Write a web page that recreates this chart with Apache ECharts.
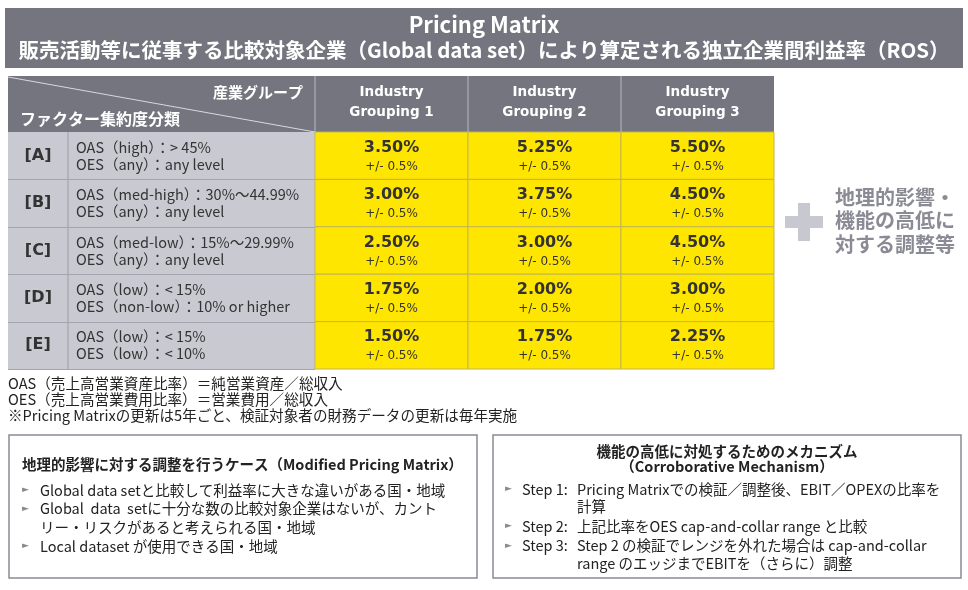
<!DOCTYPE html>
<html>
<head>
<meta charset="utf-8">
<script src="https://cdn.jsdelivr.net/npm/echarts@6/dist/echarts.min.js"></script>
<style>
  html, body { margin: 0; padding: 0; background: #fff; }
  #main { width: 968px; height: 590px; }
</style>
</head>
<body>
<div id="main"></div>
<script>
// 産業グループ（列）とファクター集約度分類（行）
const groups = ['Industry\nGrouping 1', 'Industry\nGrouping 2', 'Industry\nGrouping 3'];
const classes = ['[A]', '[B]', '[C]', '[D]', '[E]'];
const oasLabels = ['OAS（high）：> 45%', 'OAS（med-high）：30%～44.99%', 'OAS（med-low）：15%～29.99%', 'OAS（low）：< 15%', 'OAS（low）：< 15%'];
const oesLabels = ['OES（any）：any level', 'OES（any）：any level', 'OES（any）：any level', 'OES（non-low）：10% or higher', 'OES（low）：< 10%'];
// ROS（%）行 = A..E, 列 = Grouping 1..3
const rosA = [3.50, 5.25, 5.50];
const rosB = [3.00, 3.75, 4.50];
const rosC = [2.50, 3.00, 4.50];
const rosD = [1.75, 2.00, 3.00];
const rosE = [1.50, 1.75, 2.25];
const band = 0.5;

const notes = [
  'OAS（売上高営業資産比率）＝純営業資産／総収入',
  'OES（売上高営業費用比率）＝営業費用／総収入',
  '※Pricing Matrixの更新は5年ごと、検証対象者の財務データの更新は毎年実施'
];
const leftBoxTitle = '地理的影響に対する調整を行うケース（Modified Pricing Matrix）';
const leftBullets = [
  ['Global data setと比較して利益率に大きな違いがある国・地域'],
  ['Global  data  setに十分な数の比較対象企業はないが、カント', 'リー・リスクがあると考えられる国・地域'],
  ['Local dataset が使用できる国・地域']
];
const rightBoxTitle = ['機能の高低に対処するためのメカニズム', '（Corroborative Mechanism）'];
const rightSteps = [
  ['Step 1:', 'Pricing Matrixでの検証／調整後、EBIT／OPEXの比率を', '計算'],
  ['Step 2:', '上記比率をOES cap-and-collar range と比較'],
  ['Step 3:', 'Step 2 の検証でレンジを外れた場合は cap-and-collar', 'range のエッジまでEBITを（さらに）調整']
];

const rosRows = [rosA, rosB, rosC, rosD, rosE];
const cellData = [];
rosRows.forEach((row, r) => row.forEach((v, c) => cellData.push([c, r, v])));

const JP = '"Noto Sans CJK JP", "Noto Sans", sans-serif';
const NUM = '"DejaVu Sans", "Noto Sans CJK JP", sans-serif';
const GRAY = '#75757f';

const chart = echarts.init(document.getElementById('main'));

function renderCell(params, api) {
  const c = api.coord([api.value(0), api.value(1)]);
  const s = api.size([1, 1]);
  return {
    type: 'group',
    children: [
      { type: 'rect', shape: { x: c[0] - s[0] / 2, y: c[1] - s[1] / 2, width: s[0], height: s[1] },
        style: { fill: '#ffe600', stroke: '#c2b552', lineWidth: 1 } },
      { type: 'text', x: c[0], y: c[1] - 8,
        style: { text: api.value(2).toFixed(2) + '%', fill: '#333', font: 'bold 16px ' + NUM, align: 'center', verticalAlign: 'middle' } },
      { type: 'text', x: c[0], y: c[1] + 11,
        style: { text: '+/- ' + band + '%', fill: '#333', font: '12px ' + NUM, align: 'center', verticalAlign: 'middle' } }
    ]
  };
}

// 背景・装飾
const graphics = [];
graphics.push({ type: 'rect', z: 0, shape: { x: 5, y: 8, width: 958, height: 60 }, style: { fill: GRAY } });
graphics.push({ type: 'text', z: 1, x: 484, y: 25, style: { text: 'Pricing Matrix', fill: '#fff', font: 'bold 22px ' + JP, align: 'center', verticalAlign: 'middle' } });
graphics.push({ type: 'text', z: 1, x: 484, y: 50, style: { text: '販売活動等に従事する比較対象企業（Global data set）により算定される独立企業間利益率（ROS）', fill: '#fff', font: 'bold 20.5px ' + JP, align: 'center', verticalAlign: 'middle' } });

// テーブル見出し
graphics.push({ type: 'rect', z: 0, shape: { x: 8, y: 76, width: 766, height: 56 }, style: { fill: GRAY } });
[315, 468, 621].forEach(x => graphics.push({ type: 'line', z: 1, shape: { x1: x, y1: 76, x2: x, y2: 132 }, style: { stroke: '#b9b9c2', lineWidth: 1 } }));
graphics.push({ type: 'line', z: 1, shape: { x1: 8, y1: 77, x2: 315, y2: 132 }, style: { stroke: '#d8d8de', lineWidth: 1 } });
graphics.push({ type: 'text', z: 1, x: 303, y: 92, style: { text: '産業グループ', fill: '#fff', font: 'bold 15px ' + JP, align: 'right', verticalAlign: 'middle' } });
graphics.push({ type: 'text', z: 1, x: 20, y: 119, style: { text: 'ファクター集約度分類', fill: '#fff', font: 'bold 16px ' + JP, align: 'left', verticalAlign: 'middle' } });

// 左側の行見出し背景
graphics.push({ type: 'rect', z: 0, shape: { x: 8, y: 132, width: 307, height: 237 }, style: { fill: '#c9c9d1' } });
graphics.push({ type: 'line', z: 1, shape: { x1: 68, y1: 132, x2: 68, y2: 369 }, style: { stroke: '#9c9ca6', lineWidth: 1 } });
for (let i = 1; i <= 5; i++) {
  const y = Math.round(132 + i * 237 / 5) + 0.5;
  graphics.push({ type: 'line', z: 1, shape: { x1: 8, y1: y, x2: 315, y2: y }, style: { stroke: '#a4a4ae', lineWidth: 1 } });
}

// 右側「＋」
graphics.push({ type: 'rect', z: 1, shape: { x: 785, y: 216, width: 38, height: 12 }, style: { fill: '#c8c8d0' } });
graphics.push({ type: 'rect', z: 1, shape: { x: 798, y: 203, width: 12, height: 38 }, style: { fill: '#c8c8d0' } });
['地理的影響・', '機能の高低に', '対する調整等'].forEach((t, i) => graphics.push({
  type: 'text', z: 1, x: 835, y: 197 + i * 23.5, style: { text: t, fill: '#8b8b95', font: 'bold 20px ' + JP, align: 'left', verticalAlign: 'middle' }
}));

// 注記
notes.forEach((t, i) => graphics.push({
  type: 'text', z: 1, x: 8, y: 383 + i * 16, style: { text: t, fill: '#222', font: '14.6px ' + JP, align: 'left', verticalAlign: 'middle' }
}));

// 下部ボックス（左）
graphics.push({ type: 'rect', z: 0, shape: { x: 9, y: 435, width: 468, height: 143 }, style: { fill: '#fff', stroke: '#8a8a94', lineWidth: 1.5 } });
graphics.push({ type: 'text', z: 1, x: 22, y: 464, style: { text: leftBoxTitle, fill: '#222', font: 'bold 14.5px ' + JP, align: 'left', verticalAlign: 'middle' } });
let ly = 490;
leftBullets.forEach(lines => {
  graphics.push({ type: 'text', z: 1, x: 22, y: ly, style: { text: '►', fill: '#8a8a94', font: '9px ' + NUM, align: 'left', verticalAlign: 'middle' } });
  lines.forEach(t => {
    graphics.push({ type: 'text', z: 1, x: 40, y: ly, style: { text: t, fill: '#222', font: '14.5px ' + JP, align: 'left', verticalAlign: 'middle' } });
    ly += 18.7;
  });
});

// 下部ボックス（右）
graphics.push({ type: 'rect', z: 0, shape: { x: 493, y: 435, width: 468, height: 143 }, style: { fill: '#fff', stroke: '#8a8a94', lineWidth: 1.5 } });
rightBoxTitle.forEach((t, i) => graphics.push({
  type: 'text', z: 1, x: 727, y: 451 + i * 15, style: { text: t, fill: '#222', font: 'bold 14.5px ' + JP, align: 'center', verticalAlign: 'middle' }
}));
let ry = 489;
rightSteps.forEach(lines => {
  graphics.push({ type: 'text', z: 1, x: 505, y: ry, style: { text: '►', fill: '#8a8a94', font: '9px ' + NUM, align: 'left', verticalAlign: 'middle' } });
  graphics.push({ type: 'text', z: 1, x: 522, y: ry, style: { text: lines[0], fill: '#222', font: '14.5px ' + JP, align: 'left', verticalAlign: 'middle' } });
  lines.slice(1).forEach(t => {
    graphics.push({ type: 'text', z: 1, x: 577, y: ry, style: { text: t, fill: '#222', font: '14.5px ' + JP, align: 'left', verticalAlign: 'middle' } });
    ry += 17.5;
  });
  ry += 2;
});

chart.setOption({
  animation: false,
  grid: { left: 315, right: 194, top: 132, bottom: 221 },
  xAxis: {
    type: 'category', data: groups, position: 'top', z: 10,
    axisLine: { show: false }, axisTick: { show: false }, splitLine: { show: false },
    axisLabel: { color: '#fff', fontFamily: NUM, fontWeight: 'bold', fontSize: 13.5, lineHeight: 20, margin: 10 }
  },
  yAxis: [
    {
      type: 'category', data: classes, inverse: true, position: 'left', z: 10,
      axisLine: { show: false }, axisTick: { show: false }, splitLine: { show: false },
      axisLabel: { color: '#333', fontFamily: NUM, fontWeight: 'bold', fontSize: 16, align: 'center', margin: 277 }
    },
    {
      type: 'category', data: classes.map((k, i) => oasLabels[i] + '\n' + oesLabels[i]), inverse: true, position: 'left', z: 10,
      axisLine: { show: false }, axisTick: { show: false }, splitLine: { show: false },
      axisLabel: { color: '#333', fontFamily: JP, fontSize: 14.5, lineHeight: 17, align: 'left', margin: 239 }
    }
  ],
  graphic: graphics,
  series: [{
    type: 'custom', z: 2,
    renderItem: renderCell,
    encode: { x: 0, y: 1 },
    data: cellData
  }]
});
</script>
</body>
</html>
